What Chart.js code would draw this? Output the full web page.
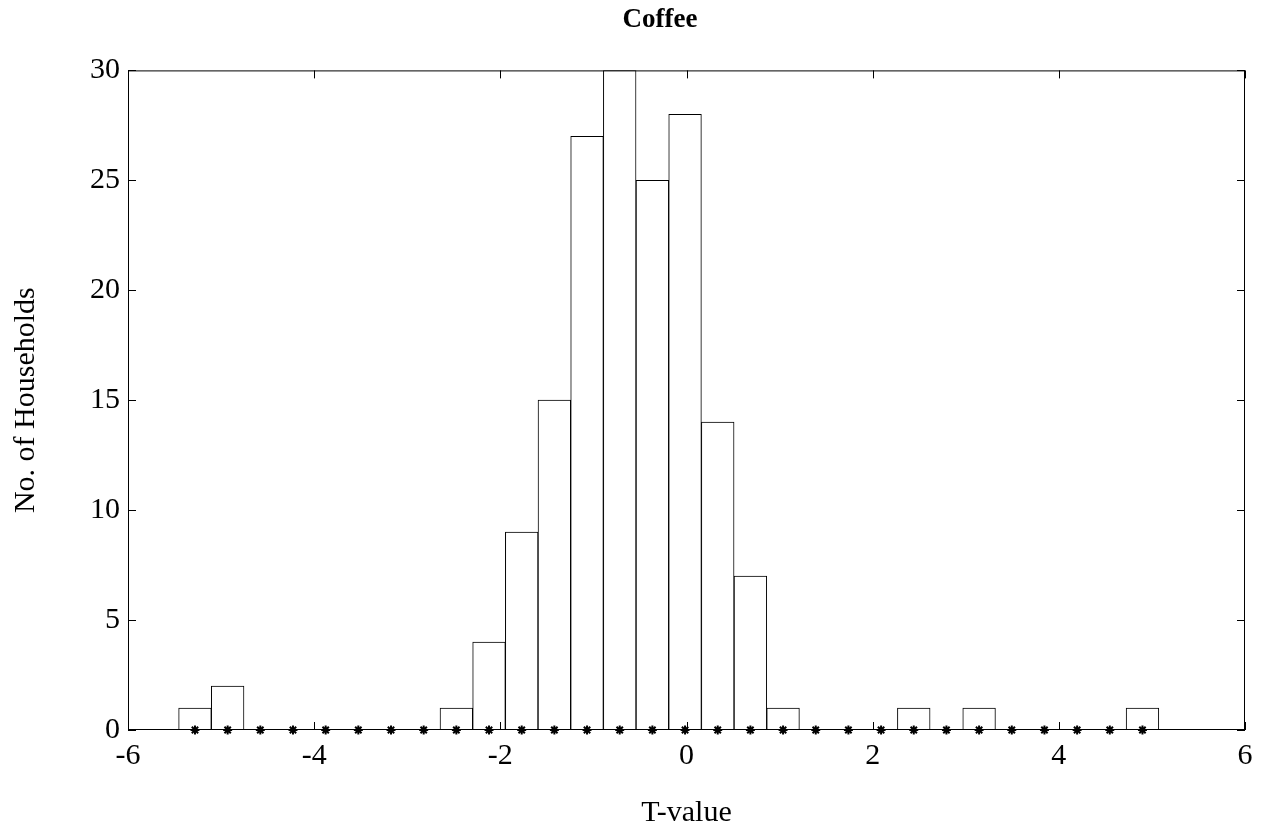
<!DOCTYPE html>
<html>
<head>
<meta charset="utf-8">
<title>Coffee</title>
<script src="https://cdn.jsdelivr.net/npm/chart.js@4/dist/chart.umd.min.js"></script>
<style>
  html, body { margin: 0; padding: 0; background: #fff; }
  #wrap { width: 1269px; height: 833px; }
</style>
</head>
<body>
<div id="wrap"><canvas id="coffeeChart" width="1269" height="833"></canvas></div>
<script>
// histogramme : 30 classes entre la plus petite et la plus grande valeur T
const binStart = -5.456;
const binWidth = 0.351;
const counts = [1, 2, 0, 0, 0, 0, 0, 0, 1, 4,
                9, 15, 27, 30, 25, 28, 14, 7, 1, 0,
                0, 0, 1, 0, 1, 0, 0, 0, 0, 1];
const xTicks = [-6, -4, -2, 0, 2, 4, 6];
const yTicks = [0, 5, 10, 15, 20, 25, 30];

const serif = "'Liberation Serif', 'Times New Roman', serif";
const centres = counts.map((c, i) => binStart + binWidth * (i + 0.5));

// petits traits vers l'intérieur + cadre autour des axes (style MATLAB)
const frame = {
  id: "frame",
  afterDraw(chart) {
    const { ctx, chartArea: a, scales: { x, y } } = chart;
    const len = 8;
    ctx.save();
    ctx.strokeStyle = "#000";
    ctx.lineWidth = 1;
    ctx.strokeRect(a.left + 0.5, a.top + 0.5, a.right - a.left - 1, a.bottom - a.top - 1);
    ctx.beginPath();
    xTicks.forEach(v => {
      const px = Math.round(x.getPixelForValue(v)) + 0.5;
      ctx.moveTo(px, a.bottom); ctx.lineTo(px, a.bottom - len);
      ctx.moveTo(px, a.top); ctx.lineTo(px, a.top + len);
    });
    yTicks.forEach(v => {
      const py = Math.round(y.getPixelForValue(v)) + 0.5;
      ctx.moveTo(a.left, py); ctx.lineTo(a.left + len, py);
      ctx.moveTo(a.right, py); ctx.lineTo(a.right - len, py);
    });
    ctx.stroke();
    ctx.restore();
  }
};

const ctx = document.getElementById("coffeeChart");
new Chart(ctx, {
  type: "bar",
  data: {
    datasets: [{
      type: "scatter",
      label: "centres",
      data: centres.map(c => ({ x: c, y: 0 })),
      pointStyle: "star",
      radius: 4.5,
      borderColor: "#000",
      backgroundColor: "#000",
      borderWidth: 2,
      clip: false,
      order: 0
    }, {
      label: "Coffee",
      data: centres.map((c, i) => ({ x: c, y: counts[i] })),
      backgroundColor: "#fff",
      borderColor: "#000",
      borderWidth: 1,
      barPercentage: 1,
      categoryPercentage: 1,
      order: 1
    }]
  },
  options: {
    responsive: false,
    animation: false,
    devicePixelRatio: 1,
    // padding gauche pour décaler le titre comme dans l'original
    layout: { padding: { left: 75, right: 24, top: 0, bottom: 2 } },
    plugins: {
      legend: { display: false },
      tooltip: { enabled: false },
      title: {
        display: true,
        text: "Coffee",
        color: "#000",
        font: { family: serif, size: 27, weight: "bold" },
        padding: { top: 4, bottom: 34 }
      }
    },
    scales: {
      x: {
        type: "linear",
        min: -6,
        max: 6,
        offset: false,
        afterBuildTicks: s => { s.ticks = xTicks.map(v => ({ value: v })); },
        afterFit: s => { s.height = 101; },
        grid: { display: false, drawTicks: false, offset: false },
        border: { display: false },
        ticks: { color: "#000", padding: 8, maxRotation: 0, font: { family: serif, size: 30 } },
        title: { display: true, text: "T-value", color: "#000", padding: 0, font: { family: serif, size: 30 } }
      },
      y: {
        min: 0,
        max: 30,
        afterBuildTicks: s => { s.ticks = yTicks.map(v => ({ value: v })); },
        afterFit: s => { s.width = 53; },
        grid: { display: false, drawTicks: false },
        border: { display: false },
        ticks: { color: "#000", padding: 8, font: { family: serif, size: 30 } },
        title: { display: true, text: "No. of Households", color: "#000", padding: { top: -67 }, font: { family: serif, size: 30 } }
      }
    }
  },
  plugins: [frame]
});
</script>
</body>
</html>
